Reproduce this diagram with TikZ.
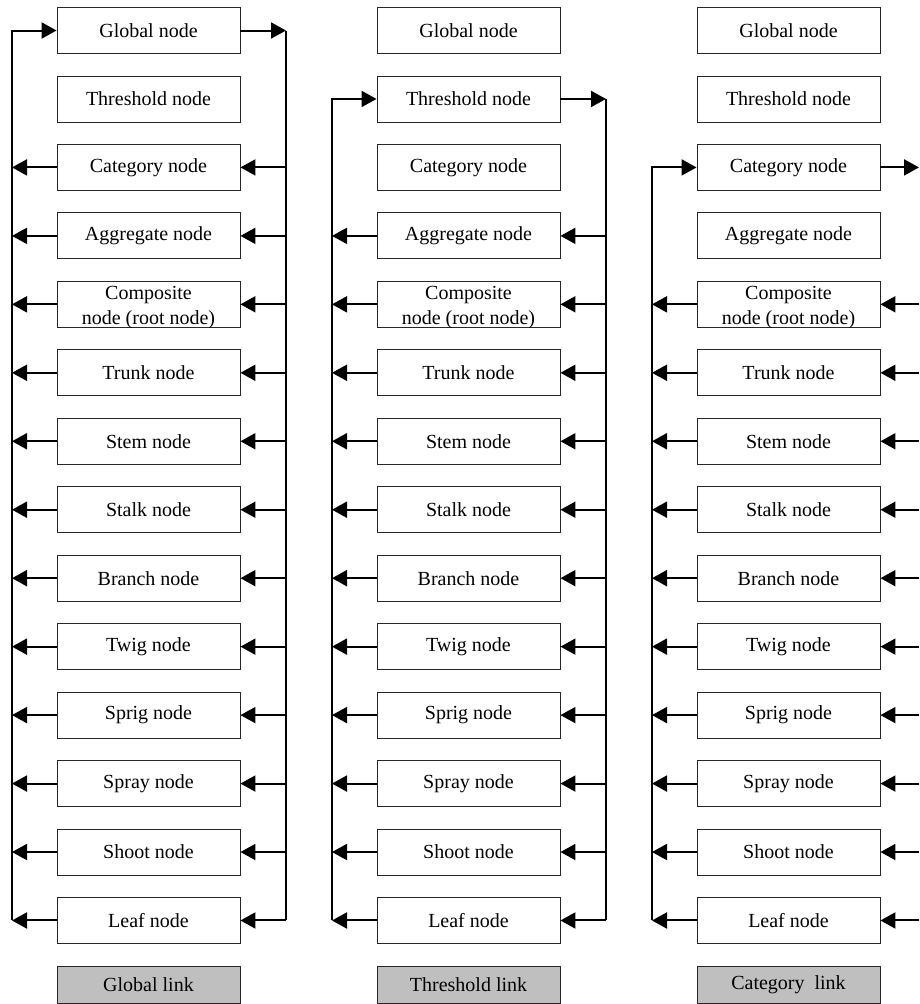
\documentclass[tikz,border=0pt]{standalone}
\usepackage{fontspec}
\setmainfont{Liberation Serif}
\usetikzlibrary{arrows.meta}
\begin{document}
\begin{tikzpicture}[x=1pt,y=-1pt,
  nodebox/.style={draw=black!85, line width=0.9pt, minimum width=183pt,
    minimum height=46pt, inner sep=0pt, align=center,
    font=\fontsize{20}{25}\selectfont},
  linkbox/.style={nodebox, fill=black!25, minimum height=37pt},
  bus/.style={line width=2pt},
  link/.style={line width=2pt, -{Triangle[length=15pt,width=16pt]}}]
\useasboundingbox (0,0) rectangle (919,1004);

% three columns of the node hierarchy
\foreach \c/\cx in {1/148.5, 2/468.5, 3/788.5} {
  \foreach \t [count=\i from 0] in {Global node, Threshold node, Category node,
      Aggregate node,
      {\rule{0pt}{15pt}Composite\\\raisebox{0pt}[\height][0pt]{node (root node)}},
      Trunk node, Stem node, Stalk node, Branch node, Twig node, Sprig node,
      Spray node, Shoot node, Leaf node} {
    \node[nodebox] (n\c-\i) at (\cx, 30.5+68.46*\i) {\t};
  }
}
\node[linkbox] (k1) at (148.5, 984.5) {Global link};
\node[linkbox] (k2) at (468.5, 984.5) {Threshold link};
\node[linkbox] (k3) at (788.5, 984.5) {Category\ \ link};

% bus lines left and right of each column
\coordinate (L1) at (12,0);  \coordinate (R1) at (286,0);
\coordinate (L2) at (332,0); \coordinate (R2) at (606,0);
\coordinate (L3) at (652,0); \coordinate (R3) at (919,0);

% each column: source row \a feeds all rows from \a+2 down to the leaf
\foreach \c/\a in {1/0, 2/1, 3/2} {
  \pgfmathtruncatemacro\b{\a+2}
  \draw[link] (L\c |- n\c-13) -- (L\c |- n\c-\a) -- (n\c-\a.west);
  \draw[link] (n\c-\a.east) -- (R\c |- n\c-\a);
  \foreach \i in {\b,...,13} {
    \draw[link] (R\c |- n\c-\i) -- (n\c-\i.east);
    \draw[link] (n\c-\i.west) -- (L\c |- n\c-\i);
  }
}
\draw[bus] (R1 |- n1-0) -- (R1 |- n1-13);
\draw[bus] (R2 |- n2-1) -- (R2 |- n2-13);
\end{tikzpicture}
\end{document}
